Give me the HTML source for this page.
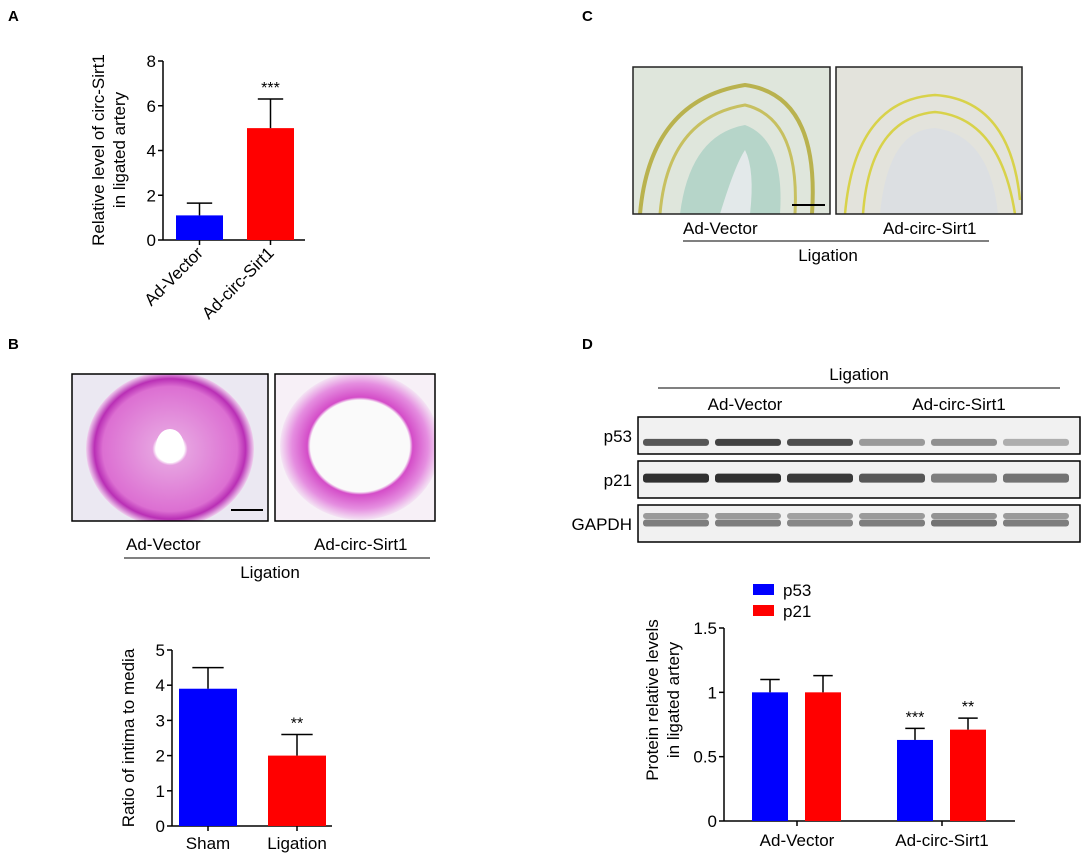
<!DOCTYPE html>
<html><head><meta charset="utf-8"><style>
body{margin:0;background:#fff;width:1084px;height:858px;overflow:hidden;font-family:"Liberation Sans",Arial,sans-serif}
svg text{font-family:"Liberation Sans",Arial,sans-serif}
</style></head><body>
<svg id="fig" width="1084" height="858" viewBox="0 0 1084 858">
<defs>
<radialGradient id="gB1" cx="50%" cy="50%" r="50%"><stop offset="0.17" stop-color="#fff"/><stop offset="0.21" stop-color="#e6a0e0"/><stop offset="0.8" stop-color="#dc6fd2"/><stop offset="0.9" stop-color="#b92fb5"/><stop offset="1" stop-color="#efd0ee"/></radialGradient>
<radialGradient id="gB2" cx="50%" cy="50%" r="50%"><stop offset="0.62" stop-color="#fafafa"/><stop offset="0.66" stop-color="#d44dc8"/><stop offset="0.85" stop-color="#e58ee0"/><stop offset="1" stop-color="#f4e4f4"/></radialGradient>
<clipPath id="cB1"><rect x="72" y="374" width="196" height="147"/></clipPath>
<clipPath id="cB2"><rect x="275" y="374" width="160" height="147"/></clipPath>
<clipPath id="cC1"><rect x="633" y="67" width="197" height="147"/></clipPath>
<clipPath id="cC2"><rect x="836" y="67" width="186" height="147"/></clipPath>
</defs>
<g font-weight="bold" font-size="15">
<text x="8" y="21">A</text>
<text x="8" y="349">B</text>
<text x="582" y="21">C</text>
<text x="582" y="349">D</text>
</g>
<g>
<g clip-path="url(#cB1)">
<rect x="72" y="374" width="196" height="147" fill="#ebe8f2"/>
<ellipse cx="170" cy="449" rx="84" ry="78" fill="url(#gB1)"/>
<ellipse cx="170" cy="446" rx="14" ry="17" fill="#fff"/>
</g>
<rect x="72" y="374" width="196" height="147" fill="none" stroke="#000" stroke-width="1.5"/>
<line x1="231" y1="510" x2="263" y2="510" stroke="#000" stroke-width="2"/>
</g>
<g>
<g clip-path="url(#cB2)">
<rect x="275" y="374" width="160" height="147" fill="#f7f0f7"/>
<ellipse cx="360" cy="446" rx="80" ry="74" fill="url(#gB2)"/>
</g>
<rect x="275" y="374" width="160" height="147" fill="none" stroke="#000" stroke-width="1.5"/>
</g>
<g font-size="17">
<text x="126" y="550">Ad-Vector</text>
<text x="314" y="550">Ad-circ-Sirt1</text>
<line x1="124" y1="558" x2="430" y2="558" stroke="#000" stroke-width="1"/>
<text x="270" y="578" text-anchor="middle">Ligation</text>
</g>
<g>
<g clip-path="url(#cC1)">
<rect x="633" y="67" width="197" height="147" fill="#dfe6dc"/>
<path d="M640 214 Q650 100 745 85 Q820 95 812 214" fill="none" stroke="#b9b24e" stroke-width="4"/>
<path d="M660 214 Q668 118 745 105 Q800 118 795 214" fill="none" stroke="#c7c060" stroke-width="3"/>
<path d="M680 214 Q690 135 745 125 Q785 140 780 214 Z" fill="#b6d5c9"/>
<path d="M720 214 Q735 165 745 150 Q755 170 750 214 Z" fill="#e3e9ea"/>
</g>
<rect x="633" y="67" width="197" height="147" fill="none" stroke="#222" stroke-width="1.5"/>
<line x1="792" y1="205" x2="825" y2="205" stroke="#000" stroke-width="2"/>
</g>
<g>
<g clip-path="url(#cC2)">
<rect x="836" y="67" width="186" height="147" fill="#e3e3dc"/>
<path d="M845 214 Q855 100 935 95 Q1010 100 1020 200" fill="none" stroke="#d8d24a" stroke-width="2.5"/>
<path d="M863 214 Q870 118 935 112 Q1000 118 1015 214" fill="none" stroke="#d8d24a" stroke-width="2.5"/>
<path d="M880 214 Q888 130 935 128 Q990 135 998 214 Z" fill="#dcdfe2"/>
</g>
<rect x="836" y="67" width="186" height="147" fill="none" stroke="#222" stroke-width="1.5"/>
</g>
<g font-size="17">
<text x="683" y="234">Ad-Vector</text>
<text x="883" y="234">Ad-circ-Sirt1</text>
<line x1="683" y1="241" x2="989" y2="241" stroke="#000" stroke-width="1"/>
<text x="828" y="261" text-anchor="middle">Ligation</text>
</g>
<g font-size="17">
<text x="859" y="380" text-anchor="middle">Ligation</text>
<line x1="658" y1="388" x2="1060" y2="388" stroke="#000" stroke-width="1"/>
<text x="745" y="410" text-anchor="middle">Ad-Vector</text>
<text x="959" y="410" text-anchor="middle">Ad-circ-Sirt1</text>
<text x="632" y="442" text-anchor="end">p53</text>
<text x="632" y="486" text-anchor="end">p21</text>
<text x="632" y="530" text-anchor="end">GAPDH</text>
</g>
<g id="blots"></g>
<g id="chartA"></g>
<g id="chartB"></g>
<g id="chartD"></g>
</svg>
<script>
const aCategories=["Ad-Vector","Ad-circ-Sirt1"];
const aValues=[1.1,5.0];
const aErrors=[0.55,1.3];
const aSig=["","***"];
const aTicks=[0,2,4,6,8];
const bCategories=["Sham","Ligation"];
const bValues=[3.9,2.0];
const bErrors=[0.6,0.6];
const bSig=["","**"];
const bTicks=[0,1,2,3,4,5];
const dGroups=["Ad-Vector","Ad-circ-Sirt1"];
const dSeries=["p53","p21"];
const dP53=[1.0,0.63];
const dP21=[1.0,0.71];
const dP53Err=[0.1,0.09];
const dP21Err=[0.13,0.09];
const dP53Sig=["","***"];
const dP21Sig=["","**"];
const dTicks=[0,0.5,1,1.5];
const dTickLabels=["0","0.5","1","1.5"];
const blotP53=[0.8,0.9,0.85,0.45,0.5,0.35];
const blotP21=[1,1,0.95,0.8,0.6,0.65];
const blotGapdh=[0.6,0.6,0.55,0.6,0.65,0.6];
const NS='http://www.w3.org/2000/svg';
function mk(p,tag,at,txt){const e=document.createElementNS(NS,tag);for(const k in at)e.setAttribute(k,at[k]);if(txt!==undefined)e.textContent=txt;p.appendChild(e);return e;}
const COL=['#0000ff','#ff0000'];
function axisY(g,x0,x1,yOf,ticks,labels,fs){
  const ax=mk(g,'line',{x1:x0,x2:x0,y1:yOf(ticks[0]),y2:yOf(ticks[ticks.length-1]),stroke:'#000','stroke-width':1.5});
  
  const bx=mk(g,'line',{x1:x0,x2:x1,y1:yOf(ticks[0]),y2:yOf(ticks[0]),stroke:'#000','stroke-width':1.5});
  
  ticks.forEach((t,i)=>{mk(g,'line',{x1:x0-5,x2:x0,y1:yOf(t),y2:yOf(t),stroke:'#000','stroke-width':1.5});
    const tl=mk(g,'text',{x:x0-7,y:yOf(t)+6,'text-anchor':'end','font-size':fs},labels[i]);
    });
}
function bar(g,x,w,yOf,v,e,c,sig,name){
  const r=mk(g,'rect',{x:x,y:yOf(v),width:w,height:yOf(0)-yOf(v),fill:c});
  
  const cx=x+w/2;
  mk(g,'line',{x1:cx,x2:cx,y1:yOf(v),y2:yOf(v+e),stroke:'#000','stroke-width':1.5});
  mk(g,'line',{x1:cx-w*0.27,x2:cx+w*0.27,y1:yOf(v+e),y2:yOf(v+e),stroke:'#000','stroke-width':1.5});
  if(sig){const s=mk(g,'text',{x:cx,y:yOf(v+e)-6,'text-anchor':'middle','font-size':16},sig);
    }
}
(function(){const g=document.getElementById('chartA');const y0=240,y1=61,x0=163;
 const yOf=v=>y0-(v-0)/(8-0)*(y0-y1);
 axisY(g,x0,305,yOf,aTicks,aTicks.map(String),17);
 aCategories.forEach((c,i)=>{const x=176+i*71;bar(g,x,47,yOf,aValues[i],aErrors[i],COL[i],aSig[i],'bar-'+c.toLowerCase());
  mk(g,'line',{x1:x+23.5,x2:x+23.5,y1:y0,y2:y0+5,stroke:'#000','stroke-width':1.5});
  const t=mk(g,'text',{x:x+28,y:y0+14,'text-anchor':'end','font-size':17,transform:`rotate(-45 ${x+28} ${y0+14})`},c);
  });
 const yt=mk(g,'text',{x:0,y:0,'text-anchor':'middle','font-size':17,transform:'translate(104,150) rotate(-90)'});
 
 mk(yt,'tspan',{x:0,dy:0},'Relative level of circ-Sirt1');mk(yt,'tspan',{x:0,dy:21},'in ligated artery');
})();
(function(){const g=document.getElementById('chartB');const y0=826,y1=650,x0=172;
 const yOf=v=>y0-v/5*(y0-y1);
 axisY(g,x0,332,yOf,bTicks,bTicks.map(String),17);
 bCategories.forEach((c,i)=>{const x=179+i*89;bar(g,x,58,yOf,bValues[i],bErrors[i],COL[i],bSig[i],'bar-'+c.toLowerCase());
  mk(g,'line',{x1:x+29,x2:x+29,y1:y0,y2:y0+5,stroke:'#000','stroke-width':1.5});
  const t=mk(g,'text',{x:x+29,y:y0+23,'text-anchor':'middle','font-size':17},c);
  });
 const yt=mk(g,'text',{x:0,y:0,'text-anchor':'middle','font-size':17,transform:'translate(134,738) rotate(-90)'},'Ratio of intima to media');
 
})();
(function(){const g=document.getElementById('chartD');const y0=821,y1=628,x0=724;
 const yOf=v=>y0-v/1.5*(y0-y1);
 axisY(g,x0,1015,yOf,dTicks,dTickLabels,17);
 const vals=[dP53,dP21],errs=[dP53Err,dP21Err],sigs=[dP53Sig,dP21Sig];
 dGroups.forEach((c,gi)=>{const gx=752+gi*145;
  dSeries.forEach((s,si)=>{bar(g,gx+si*53,36,yOf,vals[si][gi],errs[si][gi],COL[si],sigs[si][gi],'bar-'+s+'-'+c.toLowerCase());});
  const cx=gx+45;mk(g,'line',{x1:cx,x2:cx,y1:y0,y2:y0+5,stroke:'#000','stroke-width':1.5});
  const t=mk(g,'text',{x:cx,y:y0+25,'text-anchor':'middle','font-size':17},c);
  });
 dSeries.forEach((s,i)=>{const y=584+i*21;
  const r=mk(g,'rect',{x:753,y:y,width:21,height:11,fill:COL[i]});
  
  const t=mk(g,'text',{x:783,y:y+12,'font-size':17},s);
  });
 const yt=mk(g,'text',{x:0,y:0,'text-anchor':'middle','font-size':17,transform:'translate(658,700) rotate(-90)'});
 
 mk(yt,'tspan',{x:0,dy:0},'Protein relative levels');mk(yt,'tspan',{x:0,dy:21},'in ligated artery');
})();
(function(){const g=document.getElementById('blots');
 const rows=[[417,blotP53,'p53',0.7],[461,blotP21,'p21',0.45],[505,blotGapdh,'gapdh',0.5]];
 rows.forEach(([y,arr,n,by])=>{
  const bg=mk(g,'rect',{x:638,y:y,width:442,height:37,fill:'#f1f1f1'});
  
  arr.forEach((v,i)=>{const x=643+i*72;
   mk(g,'rect',{x:x,y:y+37*by-4,width:66,height:n==='p21'?9:7,rx:3,fill:'#000','fill-opacity':v*0.8});
   if(n==='gapdh')mk(g,'rect',{x:x,y:y+8,width:66,height:6,rx:3,fill:'#000','fill-opacity':v*0.6});});
  mk(g,'rect',{x:638,y:y,width:442,height:37,fill:'none',stroke:'#000','stroke-width':1.5});
 });
})();
</script>
</body></html>
